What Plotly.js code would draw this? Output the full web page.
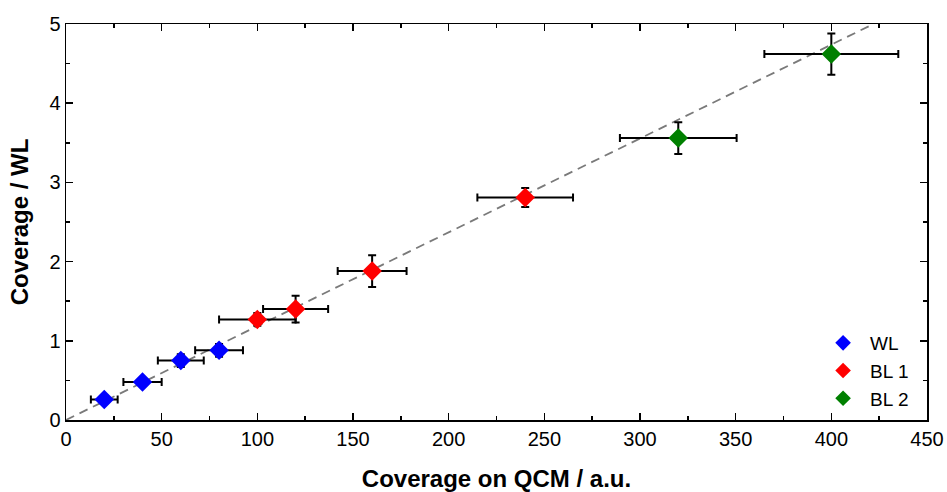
<!DOCTYPE html>
<html>
<head>
<meta charset="utf-8">
<script src="https://cdn.plot.ly/plotly-3.0.1.min.js"></script>
<style>html,body{margin:0;padding:0;background:#fff;}#chart{width:947px;height:492px;}</style>
</head>
<body>
<div id="chart"></div>
<script>
// WL series
const wlX = [20, 40, 60, 80];
const wlY = [0.26, 0.48, 0.75, 0.88];
const wlXerr = [7, 10, 12, 12.5];
const wlYerr = [0.05, 0.05, 0.08, 0.08];
// BL 1 series
const bl1X = [100, 120, 160, 240];
const bl1Y = [1.27, 1.40, 1.88, 2.81];
const bl1Xerr = [20, 17, 18, 25];
const bl1Yerr = [0.08, 0.17, 0.20, 0.12];
// BL 2 series
const bl2X = [320, 400];
const bl2Y = [3.56, 4.62];
const bl2Xerr = [30.5, 35];
const bl2Yerr = [0.20, 0.26];
// guide line
const fitX = [0, 422];
const fitY = [0, 5];

const FONT = 'Arial, "Liberation Sans", sans-serif';

function series(name, x, y, xe, ye, color) {
  return {
    type: 'scatter', mode: 'markers', name: name, x: x, y: y,
    marker: {symbol: 'diamond', size: 15, color: color, line: {width: 0}},
    error_x: {type: 'data', array: xe, visible: true, color: '#000', thickness: 2, width: 4},
    error_y: {type: 'data', array: ye, visible: true, color: '#000', thickness: 2, width: 4}
  };
}

const data = [
  {type: 'scatter', mode: 'lines', x: fitX, y: fitY, showlegend: false,
   line: {color: '#7a7a7a', width: 1.8, dash: '9px,6px'}, hoverinfo: 'skip'},
  series('WL', wlX, wlY, wlXerr, wlYerr, '#0000FF'),
  series('BL 1', bl1X, bl1Y, bl1Xerr, bl1Yerr, '#FF0000'),
  series('BL 2', bl2X, bl2Y, bl2Xerr, bl2Yerr, '#008000')
];

const axisCommon = {
  showline: true, linecolor: '#000', linewidth: 1.5, mirror: 'allticks',
  ticks: 'inside', ticklen: 7, tickwidth: 1.5, tickcolor: '#000',
  showgrid: false, zeroline: false,
  tickfont: {family: FONT, size: 20, color: '#000'}
};

const layout = {
  width: 947, height: 492,
  margin: {l: 66, r: 20, t: 24, b: 72},
  paper_bgcolor: '#fff', plot_bgcolor: '#fff',
  showlegend: true,
  legend: {x: 0.985, xanchor: 'right', y: 0.005, yanchor: 'bottom',
           bgcolor: 'rgba(0,0,0,0)', font: {family: FONT, size: 19, color: '#000'},
           itemsizing: 'constant', itemwidth: 44, tracegroupgap: 0},
  xaxis: Object.assign({}, axisCommon, {
    range: [0, 450], dtick: 50, tick0: 0,
    minor: {ticks: 'inside', ticklen: 4, dtick: 25, tickwidth: 1.5, tickcolor: '#000'},
    title: {text: '<b>Coverage on QCM / a.u.</b>', font: {family: FONT, size: 24, color: '#000'}, standoff: 22}
  }),
  yaxis: Object.assign({}, axisCommon, {
    range: [0, 5], dtick: 1, tick0: 0,
    minor: {ticks: 'inside', ticklen: 4, dtick: 0.5, tickwidth: 1.5, tickcolor: '#000'},
    title: {text: '<b>Coverage / WL</b>', font: {family: FONT, size: 24, color: '#000'}, standoff: 14}
  })
};

Plotly.newPlot('chart', data, layout, {displayModeBar: false, staticPlot: true});
</script>
</body>
</html>
